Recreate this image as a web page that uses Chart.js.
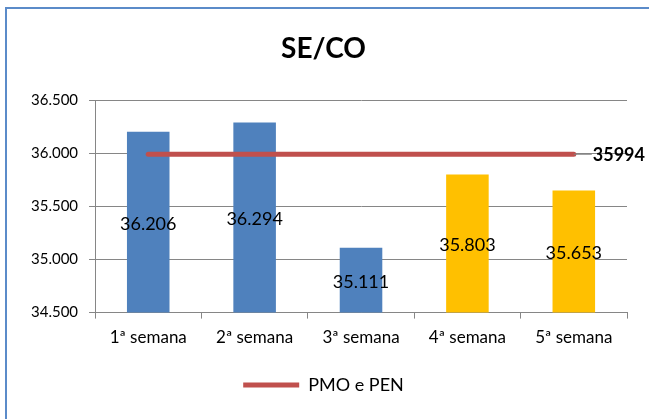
<!DOCTYPE html>
<html>
<head>
<meta charset="utf-8">
<script src="https://cdn.jsdelivr.net/npm/chart.js@4.4.1/dist/chart.umd.min.js"></script>
<style>
  html, body { margin: 0; padding: 0; background: #fff; overflow: hidden; }
  #wrap { position: relative; width: 649px; height: 419px; }
  #frame { position: absolute; left: 5px; top: 7px; width: 700px; height: 500px;
           border: 2px solid #5B8BC9; box-sizing: border-box; }
  canvas { position: absolute; left: 0; top: 0; }
</style>
</head>
<body>
<div id="wrap">
  <div id="frame"></div>
  <canvas id="chart" width="649" height="419"></canvas>
</div>
<script>
const categorias = ['1ª semana', '2ª semana', '3ª semana', '4ª semana', '5ª semana'];
const semanas = [36206, 36294, 35111, 35803, 35653];
const coresBarras = ['#4F81BD', '#4F81BD', '#4F81BD', '#FFC000', '#FFC000'];
const pmoPen = [35994, 35994, 35994, 35994, 35994];

const FONT = 'Lato, "Open Sans", sans-serif';
const Y_MIN = 34500;

function fmt(v) {
    return String(v).replace(/\B(?=(\d{3})+(?!\d))/g, '.');
}

// rótulos dentro das barras e valor da linha de referência
const rotulos = {
    id: 'rotulos',
    afterDatasetsDraw(chart) {
        const ctx = chart.ctx;
        const y = chart.scales.y;
        const base = y.getPixelForValue(Y_MIN);
        ctx.save();
        ctx.fillStyle = '#000';
        ctx.textAlign = 'center';
        ctx.textBaseline = 'middle';
        ctx.font = '18px ' + FONT;
        chart.getDatasetMeta(0).data.forEach((bar, i) => {
            const top = y.getPixelForValue(semanas[i]);
            ctx.fillText(fmt(semanas[i]), bar.x, (top + base) / 2 + 2);
        });

        const pts = chart.getDatasetMeta(1).data;
        const last = pts[pts.length - 1];
        ctx.strokeStyle = '#808080';
        ctx.lineWidth = 1;
        ctx.beginPath();
        ctx.moveTo(last.x, last.y);
        ctx.lineTo(last.x + 18, last.y);
        ctx.stroke();
        ctx.font = 'bold 18px ' + FONT;
        ctx.textAlign = 'left';
        ctx.fillText(String(pmoPen[pmoPen.length - 1]), last.x + 19, last.y + 1);
        ctx.restore();
    }
};

const ctx = document.getElementById('chart').getContext('2d');
new Chart(ctx, {
    type: 'bar',
    data: {
        labels: categorias,
        datasets: [{
            label: 'Semanas',
            data: semanas,
            backgroundColor: coresBarras,
            borderWidth: 0,
            barPercentage: 0.4,
            categoryPercentage: 1,
            order: 1
        }, {
            type: 'line',
            label: 'PMO e PEN',
            data: pmoPen,
            borderColor: '#C0504D',
            backgroundColor: '#C0504D',
            borderWidth: 5,
            borderCapStyle: 'round',
            pointRadius: 0,
            order: 0
        }]
    },
    options: {
        responsive: false,
        animation: false,
        layout: {
            padding: { top: 0, left: 20, right: 22, bottom: 15 }
        },
        scales: {
            x: {
                grid: {
                    drawOnChartArea: false,
                    color: '#868686',
                    tickLength: 6
                },
                border: { color: '#868686' },
                ticks: {
                    color: '#000',
                    font: { family: FONT, size: 17 },
                    padding: 9
                }
            },
            y: {
                min: Y_MIN,
                max: 36500,
                grid: {
                    color: '#868686',
                    tickLength: 6
                },
                border: { color: '#868686' },
                ticks: {
                    stepSize: 500,
                    color: '#000',
                    font: { family: FONT, size: 15 },
                    padding: 11,
                    callback: v => fmt(v)
                }
            }
        },
        plugins: {
            title: {
                display: true,
                text: 'SE/CO',
                color: '#000',
                font: { family: FONT, size: 28, weight: 'bold' },
                padding: { top: 32, bottom: 35 }
            },
            legend: {
                position: 'bottom',
                labels: {
                    filter: item => item.text === 'PMO e PEN',
                    usePointStyle: true,
                    pointStyle: 'line',
                    pointStyleWidth: 56,
                    color: '#000',
                    font: { family: FONT, size: 18 },
                    padding: 19
                }
            },
            tooltip: { enabled: false }
        }
    },
    plugins: [rotulos]
});
</script>
</body>
</html>
